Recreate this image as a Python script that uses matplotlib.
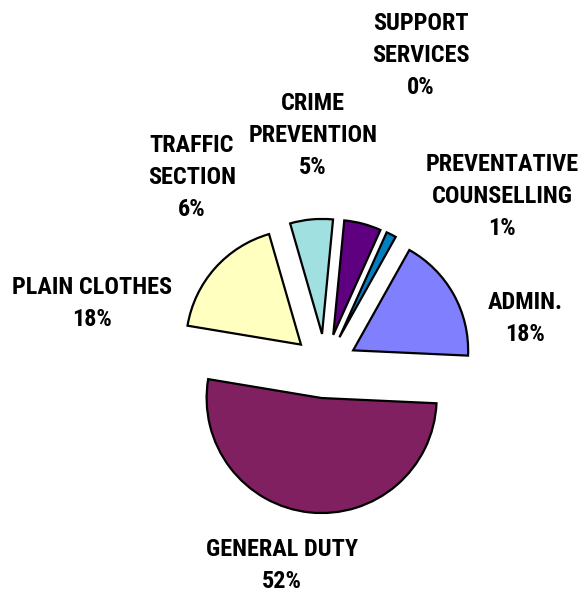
import matplotlib
matplotlib.use("Agg")
import matplotlib.pyplot as plt

# slices in clockwise order, starting just right of 12 o'clock
CATEGORIES = ["CRIME\nPREVENTION", "SUPPORT\nSERVICES", "PREVENTATIVE\nCOUNSELLING",
              "ADMIN.", "GENERAL DUTY", "PLAIN CLOTHES", "TRAFFIC\nSECTION"]
SHARES = [5.2, 0.0, 1.4, 17.6, 51.9, 17.9, 6.0]
COLORS = ["#5F0080", "#3366CC", "#0080C0", "#8080FF", "#802060", "#FFFFC0", "#A0E0E0"]

# layout (pixels, origin top-left)
W, H = 578, 592
CX, CY, R = 325, 366, 115
LABEL_PX = [(313, 136), (421, 56), (502, 197), (525, 319), (282, 566), (92, 303), (192, 178)]
FONT = ["Liberation Sans Narrow", "Roboto Condensed", "Liberation Sans", "DejaVu Sans"]

fig = plt.figure(figsize=(W / 100, H / 100), dpi=100)
ax = fig.add_axes([0, 0, 1, 1])

wedges, _ = ax.pie(SHARES, colors=COLORS, explode=[0.28] * len(SHARES), radius=1,
                   startangle=84.5, counterclock=False,
                   wedgeprops=dict(edgecolor="black", linewidth=1.6))
for w, s in zip(wedges, SHARES):
    if s == 0:
        w.set_visible(False)

for name, share, (px, py) in zip(CATEGORIES, SHARES, LABEL_PX):
    ax.text((px - CX) / R, (CY - py) / R, f"{name}\n{round(share)}%",
            ha="center", va="center", fontsize=17.5, fontweight="semibold",
            family=FONT, linespacing=1.5)

ax.set_xlim(-CX / R, (W - CX) / R)
ax.set_ylim(-(H - CY) / R, CY / R)
ax.set_aspect("equal")
ax.axis("off")

fig.savefig("out.png", dpi=100)
